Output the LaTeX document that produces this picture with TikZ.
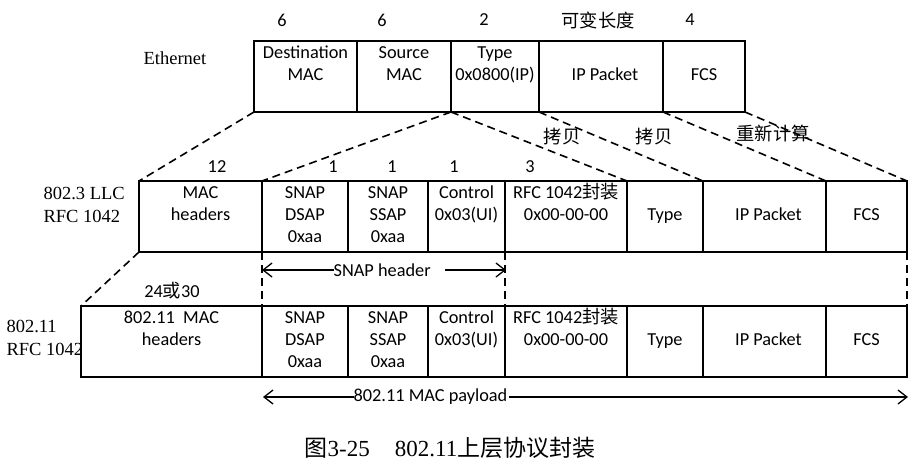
\documentclass[tikz,border=0pt]{standalone}
\usepackage{fontspec}
\setmainfont{Carlito}
\newfontfamily\timesfont{Liberation Serif}
\newfontfamily\cjkfont{Noto Sans CJK SC}
\usetikzlibrary{arrows.meta}
\newcommand{\fieldtext}[3]{\strut#1\\\strut#2\\\strut#3}

\begin{document}
\begin{tikzpicture}[x=1pt,y=-1pt,
  field/.style={draw,line width=1.8pt,minimum height=71pt,inner sep=0pt,outer sep=0pt,anchor=north west,align=center,font=\fontsize{18.3}{22}\selectfont},
  cut/.style={line width=1.6pt,dash pattern=on 8pt off 5pt},
  span/.style={{Straight Barb[length=9pt,width=14pt]}-{Straight Barb[length=9pt,width=14pt]},line width=1.3pt},
  nbytes/.style={font=\fontsize{18.3}{22}\selectfont},
  rowname/.style={font=\timesfont\fontsize{18.5}{23}\selectfont,align=left,anchor=west}]
\useasboundingbox (0,0) rectangle (921,474);

% Ethernet frame
\node[rowname,anchor=center] (eth) at (175,58) {Ethernet};
\node[field,minimum width=103pt] (edst) at (254,41) {\fieldtext{Destination}{MAC}{}};
\node[field,minimum width=94pt] (esrc) at (edst.north east) {\fieldtext{Source}{MAC}{}};
\node[field,minimum width=88pt] (etyp) at (esrc.north east) {\fieldtext{Type}{0x0800(IP)}{}};
\node[field,minimum width=124pt] (eipp) at (etyp.north east) {\fieldtext{}{\hspace*{8pt}IP Packet}{}};
\node[field,minimum width=82pt] (efcs) at (eipp.north east) {\fieldtext{}{FCS}{}};
\node[nbytes] (eb1) at (282,20) {6};
\node[nbytes] (eb2) at (382,20) {6};
\node[nbytes] (eb3) at (484,20) {2};
\node[nbytes] (eb4) at (598,20) {\cjkfont 可变长度};
\node[nbytes] (eb5) at (690,20) {4};

% 802.3 LLC frame
\node[rowname] (llc) at (40,204.5) {802.3 LLC\\RFC 1042};
\node[field,minimum width=123pt] (lmac) at (139,181) {\fieldtext{MAC}{headers}{}};
\node[field,minimum width=86pt] (ldsap) at (lmac.north east) {\fieldtext{SNAP}{DSAP}{0xaa}};
\node[field,minimum width=80pt] (lssap) at (ldsap.north east) {\fieldtext{SNAP}{SSAP}{0xaa}};
\node[field,minimum width=77pt] (lctl) at (lssap.north east) {\fieldtext{Control}{0x03(UI)}{}};
\node[field,minimum width=122pt] (lrfc) at (lctl.north east) {\fieldtext{RFC 1042{\cjkfont 封装}}{0x00-00-00}{}};
\node[field,minimum width=76pt] (ltyp) at (lrfc.north east) {\fieldtext{}{Type}{}};
\node[field,minimum width=123pt] (lipp) at (ltyp.north east) {\fieldtext{}{\hspace*{8pt}IP Packet}{}};
\node[field,minimum width=81pt] (lfcs) at (lipp.north east) {\fieldtext{}{FCS}{}};
\node[nbytes] (lb1) at (217,167) {12};
\node[nbytes] (lb2) at (333,167) {1};
\node[nbytes] (lb3) at (392,167) {1};
\node[nbytes] (lb4) at (454,167) {1};
\node[nbytes] (lb5) at (530,167) {3};

% 802.11 frame
\node[rowname] (wifi) at (3,337.5) {802.11\\RFC 1042};
\node[field,minimum width=181pt] (wmac) at (81,306) {\fieldtext{802.11\ \ MAC}{headers}{}};
\node[field,minimum width=86pt] (wdsap) at (wmac.north east) {\fieldtext{SNAP}{DSAP}{0xaa}};
\node[field,minimum width=80pt] (wssap) at (wdsap.north east) {\fieldtext{SNAP}{SSAP}{0xaa}};
\node[field,minimum width=77pt] (wctl) at (wssap.north east) {\fieldtext{Control}{0x03(UI)}{}};
\node[field,minimum width=122pt] (wrfc) at (wctl.north east) {\fieldtext{RFC 1042{\cjkfont 封装}}{0x00-00-00}{}};
\node[field,minimum width=76pt] (wtyp) at (wrfc.north east) {\fieldtext{}{Type}{}};
\node[field,minimum width=123pt] (wipp) at (wtyp.north east) {\fieldtext{}{\hspace*{8pt}IP Packet}{}};
\node[field,minimum width=81pt] (wfcs) at (wipp.north east) {\fieldtext{}{FCS}{}};
\node[nbytes] (wb1) at (172,291) {24{\cjkfont 或}30};

% copy / recompute
\node[nbytes] (cp1) at (562,137) {\cjkfont 拷贝};
\node[nbytes] (cp2) at (654,137) {\cjkfont 拷贝};
\node[nbytes] (cp3) at (773,134) {\cjkfont 重新计算};

% dashed guides
\draw[cut] (edst.south west) -- (lmac.north west);
\draw[cut] (etyp.south west) -- (ldsap.north west);
\draw[cut] (etyp.south west) -- (ltyp.north west);
\draw[cut] (eipp.south west) -- (lipp.north west);
\draw[cut] (efcs.south west) -- (lfcs.north west);
\draw[cut] (efcs.south east) -- (lfcs.north east);
\draw[cut] (lmac.south west) -- (wmac.north west);
\draw[cut] (ldsap.south west) -- (wdsap.north west);
\draw[cut] (lrfc.south west) -- (wrfc.north west);
\draw[cut] (lfcs.south east) -- (wfcs.north east);

% spans
\coordinate (snapl) at (262,270);
\coordinate (snapr) at (506,270);
\draw[span] (snapl) -- (snapr) node[pos=0.291,anchor=west,fill=white,inner sep=0pt,nbytes] {SNAP header\hspace*{14pt}};
\coordinate (payl) at (263,397);
\coordinate (payr) at (908,397);
\draw[span] (payl) -- (payr) node[pos=0.1395,anchor=west,fill=white,inner sep=0pt,nbytes] {802.11 MAC payload\hspace*{2pt}};

% caption
\node[font=\timesfont\fontsize{23}{28}\selectfont] (cap) at (450,448) {{\cjkfont 图}3-25\hspace{25pt}802.11{\cjkfont 上层协议封装}};
\end{tikzpicture}
\end{document}
